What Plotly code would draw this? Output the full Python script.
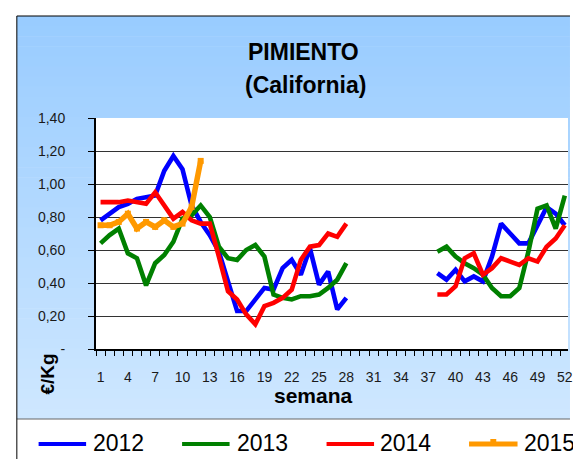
import plotly.graph_objects as go

# ---------------- data ----------------
weeks = list(range(1, 53))
series_names = ["2012", "2013", "2014", "2015"]
series_colors = ["#0000FF", "#008000", "#FF0000", "#FF9900"]

gap = [None] * 9  # weeks 29-37 without quotation

y2012 = [0.78, 0.82, 0.86, 0.88, 0.91, 0.92, 0.93, 1.08, 1.17, 1.09, 0.87, 0.77, 0.69, 0.59,
         0.42, 0.23, 0.23, 0.30, 0.37, 0.36, 0.49, 0.54, 0.45, 0.61, 0.39, 0.47, 0.24, 0.31] + gap + \
        [0.46, 0.42, 0.48, 0.41, 0.44, 0.41, 0.56, 0.76, 0.70, 0.64, 0.64, 0.75, 0.86, 0.82, 0.75]
y2013 = [0.64, 0.69, 0.73, 0.58, 0.55, 0.385, 0.52, 0.57, 0.65, 0.79, 0.81, 0.87, 0.80, 0.62,
         0.55, 0.54, 0.60, 0.63, 0.56, 0.33, 0.31, 0.30, 0.32, 0.32, 0.33, 0.37, 0.42, 0.52] + gap + \
        [0.59, 0.62, 0.56, 0.52, 0.49, 0.45, 0.37, 0.32, 0.32, 0.37, 0.59, 0.85, 0.87, 0.73, 0.93]
y2014 = [0.89, 0.89, 0.89, 0.90, 0.89, 0.88, 0.95, 0.87, 0.79, 0.83, 0.78, 0.76, 0.76, 0.56,
         0.35, 0.30, 0.21, 0.15, 0.26, 0.28, 0.31, 0.36, 0.54, 0.62, 0.63, 0.70, 0.68, 0.76] + gap + \
        [0.33, 0.33, 0.38, 0.55, 0.58, 0.45, 0.49, 0.55, 0.53, 0.51, 0.55, 0.53, 0.62, 0.67, 0.75]
y2015 = [0.75, 0.75, 0.77, 0.82, 0.73, 0.77, 0.74, 0.78, 0.74, 0.76, 0.86, 1.14] + [None] * 40

series_values = [y2012, y2013, y2014, y2015]

x_tick_vals = list(range(1, 53, 3))
x_tick_text = [str(v) for v in x_tick_vals]
y_tick_vals = [0, 0.2, 0.4, 0.6, 0.8, 1.0, 1.2, 1.4]
y_tick_text = ["-", "0,20", "0,40", "0,60", "0,80", "1,00", "1,20", "1,40"]

# ---------------- layout geometry ----------------
W, H = 573, 459
L, R, T, B = 96, 0, 118, 110
PW, PH = W - L - R, H - T - B
FONT = "Liberation Sans, Arial, sans-serif"


def px_x(px):
    return (px - L) / PW


def px_y(py):
    return (H - B - py) / PH


fig = go.Figure()
for name, color, vals in zip(series_names, series_colors, series_values):
    is15 = name == "2015"
    fig.add_trace(go.Scatter(
        x=weeks, y=vals, name=name, mode="lines+markers" if is15 else "lines",
        line=dict(color=color, width=5.5 if is15 else 4.6),
        marker=dict(symbol="square", size=6, color=color) if is15 else None,
        connectgaps=False, showlegend=False,
    ))

shapes = []
# chart area gradient background
top_c = (153, 204, 255)
bot_c = (206, 231, 255)
y_top, y_bot = 16, 419
n = 40
for i in range(n):
    f = i / (n - 1)
    c = tuple(round(top_c[k] + (bot_c[k] - top_c[k]) * f) for k in range(3))
    ya = y_top + (y_bot - y_top) * i / n
    yb = y_top + (y_bot - y_top) * (i + 1) / n + 0.6
    shapes.append(dict(type="rect", xref="paper", yref="paper", layer="below",
                       x0=px_x(16), x1=px_x(575), y0=px_y(ya), y1=px_y(min(yb, y_bot)),
                       line=dict(width=0), fillcolor="rgb(%d,%d,%d)" % c))
# plot area white
shapes.append(dict(type="rect", xref="paper", yref="paper", layer="below",
                   x0=0, x1=1, y0=0, y1=1, line=dict(width=0), fillcolor="white"))
# legend box
shapes.append(dict(type="rect", xref="paper", yref="paper", layer="below",
                   x0=px_x(16), x1=px_x(575), y0=px_y(419), y1=px_y(462),
                   line=dict(width=0), fillcolor="white"))
shapes.append(dict(type="line", xref="paper", yref="paper",
                   x0=px_x(16), x1=px_x(575), y0=px_y(419), y1=px_y(419),
                   line=dict(color="#666666", width=1)))
# chart border
shapes.append(dict(type="line", xref="paper", yref="paper",
                   x0=px_x(16), x1=px_x(575), y0=px_y(16), y1=px_y(16),
                   line=dict(color="black", width=1)))
shapes.append(dict(type="line", xref="paper", yref="paper",
                   x0=px_x(16), x1=px_x(16), y0=px_y(16), y1=px_y(462),
                   line=dict(color="black", width=1)))

annotations = []
# legend
leg_line_x = [(38, 86), (183, 231), (329, 377), (473, 522)]
leg_text_x = [91, 236, 381, 527]
leg_y = 444
for name, color, (a, b), tx in zip(series_names, series_colors, leg_line_x, leg_text_x):
    shapes.append(dict(type="line", xref="paper", yref="paper",
                       x0=px_x(a), x1=px_x(b), y0=px_y(leg_y), y1=px_y(leg_y),
                       line=dict(color=color, width=5 if name == "2015" else 4)))
    if name == "2015":
        m = (a + b) / 2
        shapes.append(dict(type="rect", xref="paper", yref="paper",
                           x0=px_x(m - 3), x1=px_x(m + 3), y0=px_y(leg_y - 5), y1=px_y(leg_y + 2),
                           line=dict(width=0), fillcolor=color))
    annotations.append(dict(xref="paper", yref="paper", x=px_x(tx), y=px_y(leg_y - 1),
                            xanchor="left", yanchor="middle", showarrow=False, text=name,
                            font=dict(family=FONT, size=23, color="black")))

# titles
annotations.append(dict(xref="paper", yref="paper", x=px_x(306), y=px_y(52), showarrow=False,
                        xanchor="center", yanchor="middle", text="<b>PIMIENTO</b>",
                        font=dict(family=FONT, size=23, color="black")))
annotations.append(dict(xref="paper", yref="paper", x=px_x(308), y=px_y(85), showarrow=False,
                        xanchor="center", yanchor="middle", text="<b>(California)</b>",
                        font=dict(family=FONT, size=23, color="black")))
annotations.append(dict(xref="paper", yref="paper", x=px_x(316), y=px_y(395), showarrow=False,
                        xanchor="center", yanchor="middle", text="<b>semana</b>",
                        font=dict(family=FONT, size=21, color="black")))
annotations.append(dict(xref="paper", yref="paper", x=px_x(46), y=px_y(374), showarrow=False,
                        xanchor="center", yanchor="middle", text="<b>€/Kg</b>", textangle=-90,
                        font=dict(family=FONT, size=19, color="black")))

fig.update_layout(
    width=W, height=H, margin=dict(l=L, r=R, t=T, b=B, pad=0),
    paper_bgcolor="white", plot_bgcolor="white",
    shapes=shapes, annotations=annotations, showlegend=False,
    font=dict(family=FONT, size=14, color="#1a1a1a"),
    xaxis=dict(range=[0.5, 52.35], tickmode="array", tickvals=x_tick_vals, ticktext=x_tick_text,
               ticks="", showgrid=False, zeroline=False, showline=True, linecolor="black",
               linewidth=2, ticklabelstandoff=14, tickfont=dict(size=14),
               ticklabeloverflow="allow",
               minor=dict(tickmode="linear", tick0=0.5, dtick=1, ticks="outside", ticklen=5,
                          tickcolor="black", tickwidth=1, showgrid=False)),
    yaxis=dict(range=[0, 1.4], tickmode="array", tickvals=y_tick_vals, ticktext=y_tick_text,
               ticks="outside", ticklen=6, tickcolor="black", showgrid=False, zeroline=False,
               showline=True, linecolor="black", linewidth=2, ticklabelstandoff=20,
               tickfont=dict(size=14),
               minor=dict(tickmode="array", tickvals=[0.2, 0.4, 0.6, 0.8, 1.0, 1.2], ticks="",
                          showgrid=True, gridcolor="#333333", gridwidth=1)),
)

fig.write_html(
    "out.html",
    config={"displayModeBar": False},
    post_script="document.body.style.margin='0';document.body.style.overflow='hidden';",
)
